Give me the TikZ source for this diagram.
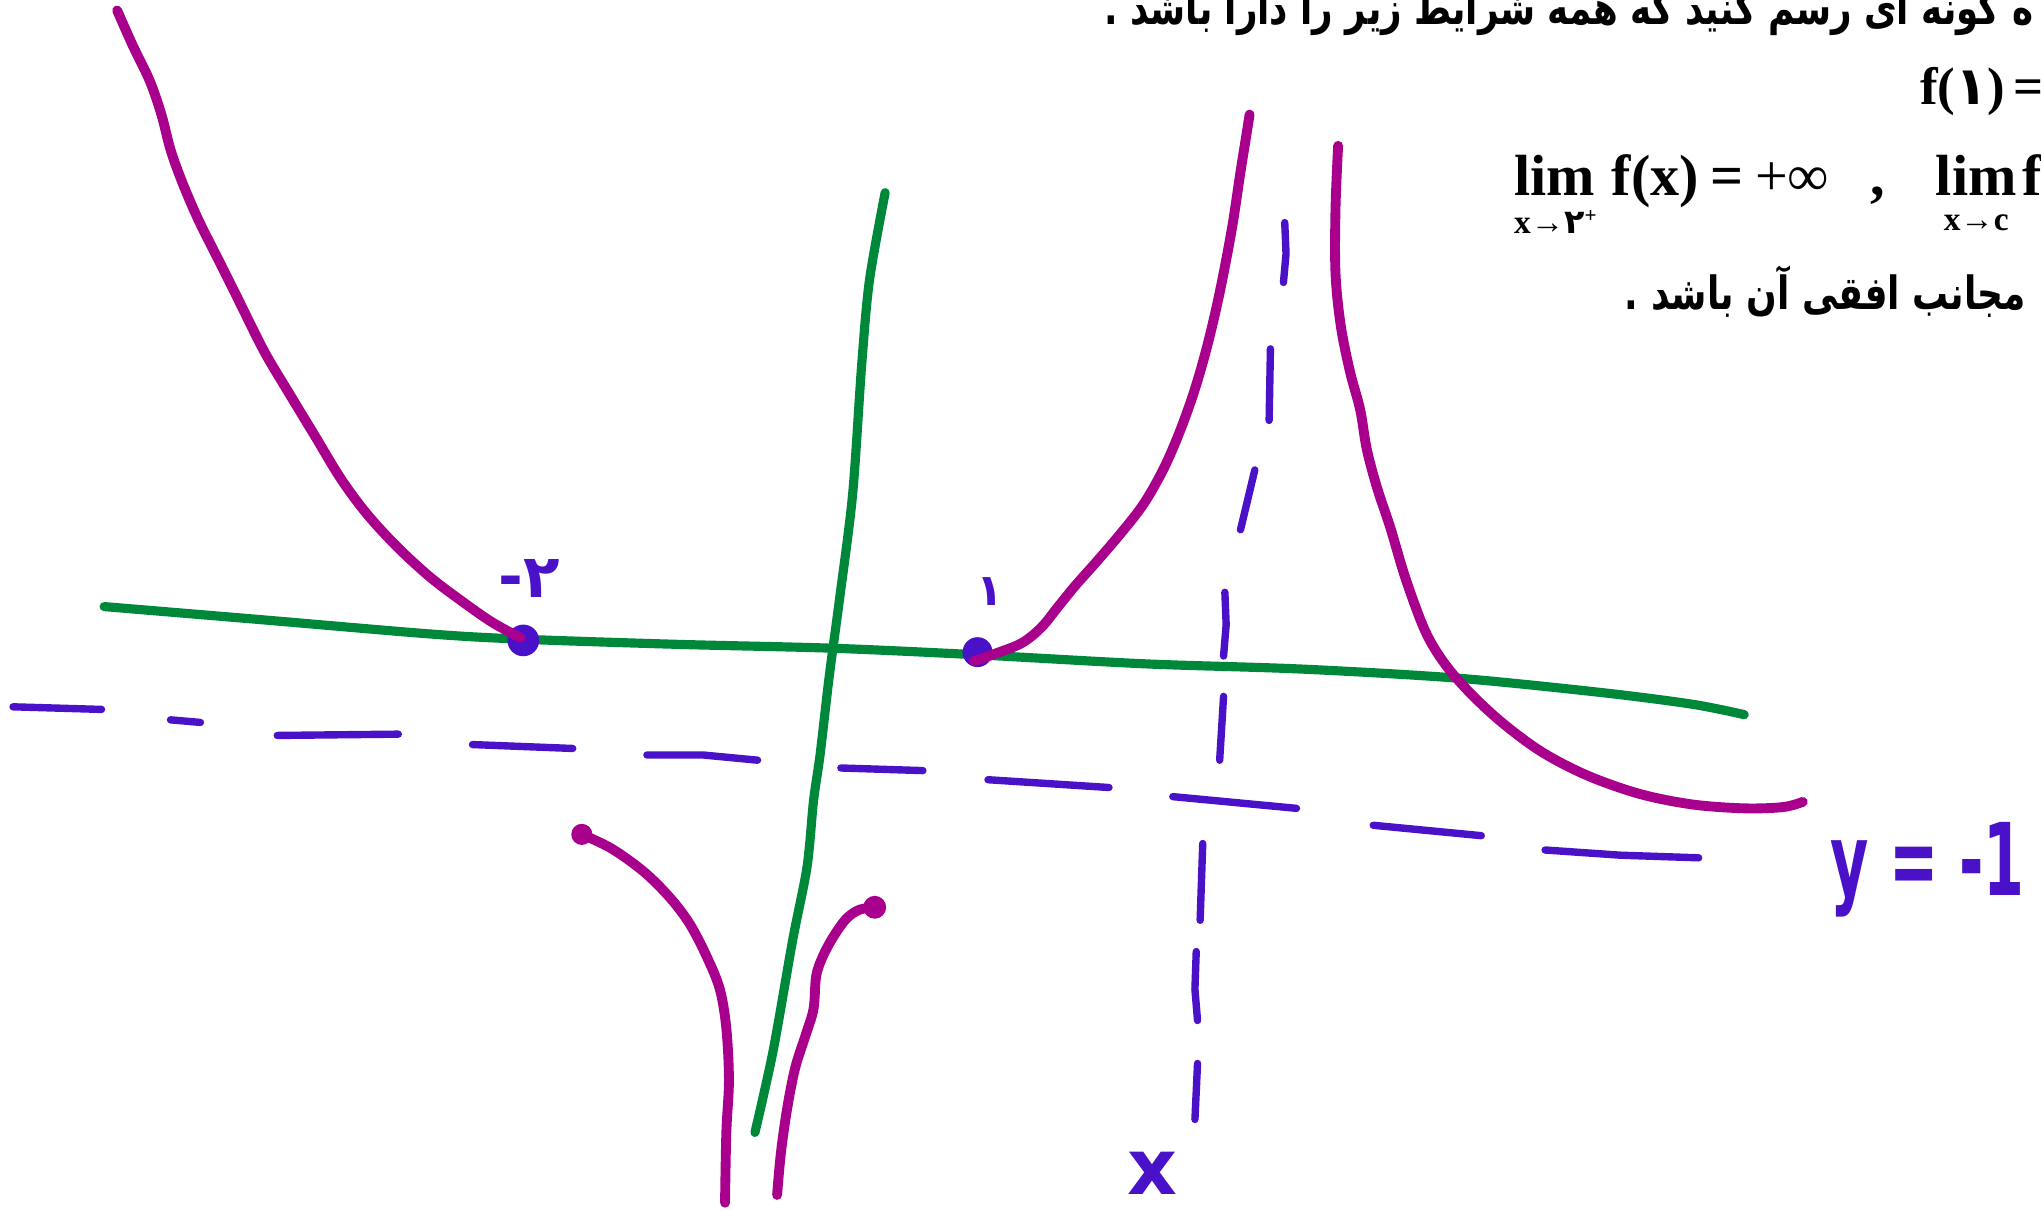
\documentclass[tikz,border=0pt]{standalone}
\usepackage{fontspec}
\setmainfont{Liberation Serif}
\newfontfamily\fa[Script=Arabic]{DejaVu Sans}
\newfontfamily\handfont{DejaVu Sans}
\TeXXeTstate=1
\definecolor{mag}{HTML}{A8008C}
\definecolor{grn}{HTML}{00883A}
\definecolor{blu}{HTML}{4A12C8}
\begin{document}
\begin{tikzpicture}[x=0.026cm,y=-0.026cm,
  curve/.style={draw=mag,line width=5.6pt,line cap=round,line join=round},
  axisline/.style={draw=grn,line width=5.2pt,line cap=round,line join=round},
  dashseg/.style={draw=blu,line width=4.2pt,line cap=round,line join=round},
  bdot/.style={circle,fill=blu,inner sep=0pt,minimum size=18pt},
  mdot/.style={circle,fill=mag,inner sep=0pt,minimum size=12pt},
  hand/.style={text=blu,inner sep=0pt},
  qt/.style={inner sep=0pt,text=black}]
\useasboundingbox (0,0) rectangle (1568,930);
\fill[white] (0,0) rectangle (1568,930);

% printed question text
\node[qt,anchor=base west] (q1) at (848,19) {\fontsize{26pt}{30pt}\selectfont\fa\bfseries\resizebox{528pt}{\height}{\beginR ه گونه ای رسم کنید که همه شرایط زیر را دارا باشد .\endR}};
\node[qt,anchor=base west] (q2) at (1475,80) {\fontsize{30pt}{34pt}\selectfont\bfseries f({\fa ۱})\hspace{0.15em}=};
\node[qt,anchor=base west] (lim1) at (1163,150) {\fontsize{33pt}{36pt}\selectfont\bfseries lim};
\node[qt,anchor=base west] (fx) at (1238,150) {\fontsize{33pt}{36pt}\selectfont\bfseries f(x)\hspace{0.2em}=\hspace{0.2em}{\mdseries +∞}};
\node[qt,anchor=base west] (comma) at (1437,150) {\fontsize{33pt}{36pt}\selectfont\bfseries ,};
\node[qt,anchor=base west] (lim2) at (1487,150) {\fontsize{33pt}{36pt}\selectfont\bfseries lim\hspace{0.1em}f};
\node[qt,anchor=base west] (sub1) at (1163,179) {\fontsize{19pt}{20pt}\selectfont\bfseries x→{\fa ۲}\raisebox{0.7ex}{\fontsize{12pt}{12pt}\selectfont +}};
\node[qt,anchor=base west] (sub2) at (1493,177) {\fontsize{19pt}{20pt}\selectfont\bfseries x→c};
\node[qt,anchor=base west] (q3) at (1248,238) {\fontsize{26pt}{30pt}\selectfont\fa\bfseries\resizebox{228pt}{\height}{\beginR مجانب افقی آن باشد .\endR}};

% axes
\draw[axisline] plot[smooth,tension=0.5] coordinates {(80,466) (200,476) (330,487) (400,491) (520,495) (640,498) (750,503) (880,510) (1000,514) (1120,521) (1230,532) (1300,541) (1340,549)};
\draw[axisline] plot[smooth,tension=0.5] coordinates {(680,148) (668,215) (662,280) (655,380) (645,460) (637,520) (630,580) (625,615) (620,666) (609,722) (594,807) (580,870)};

% horizontal asymptote y=-1
\draw[dashseg] (10,543) -- (78,545);
\draw[dashseg] (131,553) -- (154,555);
\draw[dashseg] (213,565) -- (306,564);
\draw[dashseg] (363,572) -- (440,575);
\draw[dashseg] (497,580) -- (540,580) -- (582,584);
\draw[dashseg] (646,590) -- (709,592);
\draw[dashseg] (759,599) -- (852,605);
\draw[dashseg] (901,612) -- (996,621);
\draw[dashseg] (1055,634) -- (1138,642);
\draw[dashseg] (1187,653) -- (1245,657) -- (1305,659);

% vertical asymptote
\draw[dashseg] (987,171) -- (988,195) -- (986,217);
\draw[dashseg] (976,268) -- (975,323);
\draw[dashseg] (964,361) -- (953,407);
\draw[dashseg] (941,455) -- (942,480) -- (940,504);
\draw[dashseg] (940,535) -- (937,584);
\draw[dashseg] (924,648) -- (922,707);
\draw[dashseg] (919,731) -- (918,760) -- (920,784);
\draw[dashseg] (920,817) -- (918,860);

% blue points
\node[bdot] (pA) at (402,492) {};
\node[bdot,minimum size=17pt] (pB) at (751,501) {};

% graph of f
\draw[curve] plot[smooth,tension=0.55] coordinates {(90,8) (102,35) (115,62) (124,88) (131,115) (140,140) (152,168) (167,198) (183,230) (203,270) (222,302) (242,335) (262,368) (282,395) (305,420) (330,443) (355,462) (378,478) (400,490)};
\draw[curve] plot[smooth,tension=0.55] coordinates {(748,508) (765,502) (785,494) (800,482) (813,466) (826,450) (842,432) (860,411) (878,388) (893,362) (905,335) (916,305) (925,275) (933,243) (940,210) (947,172) (953,132) (957,107) (960,88)};
\draw[curve] plot[smooth,tension=0.55] coordinates {(1028,112) (1026,160) (1026,210) (1030,250) (1037,285) (1045,315) (1050,345) (1058,375) (1068,405) (1080,445) (1095,485) (1110,510) (1130,533) (1155,556) (1185,578) (1220,596) (1260,610) (1300,618) (1340,621) (1370,620) (1385,616)};
\node[mdot] (eA) at (447,641) {};
\draw[curve] plot[smooth,tension=0.55] coordinates {(447,641) (470,652) (495,670) (515,690) (530,710) (543,735) (553,760) (558,790) (560,830) (558,870) (557,924)};
\node[mdot,minimum size=13pt] (eB) at (672,697) {};
\draw[curve] plot[smooth,tension=0.55] coordinates {(672,697) (660,699) (650,706) (640,720) (632,735) (627,750) (625,775) (619,795) (611,820) (605,850) (600,885) (597,918)};

% handwritten labels
\node[hand,anchor=base west] (lm2) at (383,459) {\fontsize{34pt}{36pt}\selectfont\bfseries{\handfont -}{\fa ۲}};
\node[hand,anchor=base west] (l1) at (750,465) {\fontsize{25pt}{28pt}\selectfont\bfseries\fa ۱};
\node[hand,anchor=base west] (ly) at (1406,688) {\fontsize{38pt}{40pt}\selectfont\handfont\bfseries\scalebox{0.88}[1.5]{y = -1}};
\node[hand,anchor=base west] (lx) at (866,918) {\fontsize{44pt}{46pt}\selectfont\handfont\bfseries x};
\end{tikzpicture}
\end{document}
